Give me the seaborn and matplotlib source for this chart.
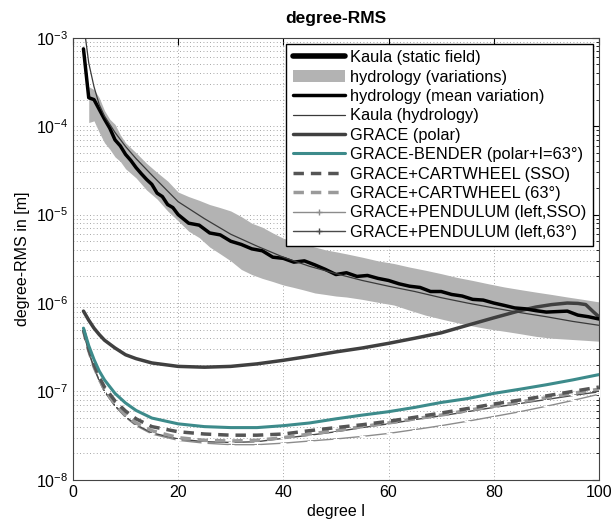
import numpy as np
import pandas as pd
import matplotlib
matplotlib.use("Agg")
import matplotlib.pyplot as plt
import seaborn as sns
from matplotlib.patches import Patch
from matplotlib.lines import Line2D

# degrees used for the smooth curves
deg = [2, 3, 4, 5, 6, 8, 10, 12, 15, 20, 25, 30, 35, 40, 45, 50, 55, 60, 65, 70, 75, 80, 85, 90, 95, 100]

kaula_static_deg = [2, 10, 50, 100]
kaula_static = [36.0, 2.9, 0.26, 0.09]  # far above the plotted range

kaula_hydro = [1.5e-3, 5.2e-4, 2.8e-4, 1.75e-4, 1.3e-4, 8.5e-5, 5.9e-5, 4.3e-5, 2.8e-5, 1.4e-5, 9.0e-6, 6.0e-6,
               4.4e-6, 3.3e-6, 2.6e-6, 2.15e-6, 1.8e-6, 1.55e-6, 1.35e-6, 1.15e-6, 1.0e-6, 8.8e-7, 7.8e-7,
               7.0e-7, 6.2e-7, 5.6e-7]

bender = [5.2e-7, 3.3e-7, 2.3e-7, 1.7e-7, 1.35e-7, 9.5e-8, 7.4e-8, 6.1e-8, 5.0e-8, 4.3e-8, 4.0e-8, 3.9e-8,
          3.9e-8, 4.1e-8, 4.4e-8, 4.9e-8, 5.4e-8, 5.9e-8, 6.6e-8, 7.5e-8, 8.3e-8, 9.5e-8, 1.06e-7,
          1.19e-7, 1.35e-7, 1.55e-7]
cw_sso = [5.0e-7, 3.0e-7, 2.0e-7, 1.45e-7, 1.12e-7, 7.8e-8, 6.0e-8, 4.9e-8, 4.0e-8, 3.5e-8, 3.3e-8, 3.2e-8,
          3.2e-8, 3.3e-8, 3.6e-8, 3.9e-8, 4.2e-8, 4.6e-8, 5.1e-8, 5.7e-8, 6.4e-8, 7.2e-8, 8.0e-8,
          8.9e-8, 1.0e-7, 1.12e-7]
cw_63 = [4.9e-7, 2.9e-7, 1.9e-7, 1.38e-7, 1.05e-7, 7.2e-8, 5.4e-8, 4.4e-8, 3.6e-8, 3.0e-8, 2.8e-8, 2.75e-8,
         2.8e-8, 3.0e-8, 3.3e-8, 3.6e-8, 4.0e-8, 4.4e-8, 4.9e-8, 5.4e-8, 6.1e-8, 6.8e-8, 7.6e-8,
         8.5e-8, 9.5e-8, 1.06e-7]
pend_63 = [4.8e-7, 2.8e-7, 1.85e-7, 1.33e-7, 1.0e-7, 6.9e-8, 5.2e-8, 4.2e-8, 3.4e-8, 2.9e-8, 2.7e-8, 2.65e-8,
           2.7e-8, 2.95e-8, 3.2e-8, 3.5e-8, 3.9e-8, 4.3e-8, 4.8e-8, 5.3e-8, 5.9e-8, 6.6e-8, 7.3e-8,
           8.1e-8, 9.0e-8, 9.9e-8]
pend_sso = [4.8e-7, 2.8e-7, 1.85e-7, 1.32e-7, 1.0e-7, 6.8e-8, 5.1e-8, 4.1e-8, 3.3e-8, 2.8e-8, 2.6e-8, 2.5e-8,
            2.5e-8, 2.6e-8, 2.75e-8, 2.9e-8, 3.1e-8, 3.35e-8, 3.7e-8, 4.1e-8, 4.6e-8, 5.2e-8, 5.9e-8,
            6.8e-8, 7.9e-8, 9.3e-8]

polar_deg = [2, 3, 4, 5, 6, 8, 10, 12, 15, 20, 25, 30, 35, 40, 45, 50, 55, 60, 65, 70, 75, 80, 85, 88, 91,
             94, 96, 97.5, 99, 100]
polar = [8.1e-7, 6.4e-7, 5.2e-7, 4.4e-7, 3.8e-7, 3.1e-7, 2.6e-7, 2.35e-7, 2.1e-7, 1.92e-7, 1.88e-7, 1.92e-7,
         2.05e-7, 2.25e-7, 2.5e-7, 2.8e-7, 3.1e-7, 3.5e-7, 4.0e-7, 4.6e-7, 5.6e-7, 6.8e-7, 8.2e-7, 9.0e-7,
         9.6e-7, 1.0e-6, 9.9e-7, 9.6e-7, 7.9e-7, 7.0e-7]

# hydrology mean variation (jagged)
mean_deg = [2, 3, 4, 5, 6, 7, 8, 9, 10, 11, 12, 13, 14, 15, 16, 17, 18, 19, 20, 22, 24, 26, 28, 30, 32, 34,
            36, 38, 40, 42, 44, 46, 48, 50, 52, 54, 56, 58, 60, 62, 64, 66, 68, 70, 72, 74, 76, 78, 80, 82,
            84, 86, 88, 90, 92, 94, 96, 98, 100]
mean_var = [7.5e-4, 2.1e-4, 2.0e-4, 1.55e-4, 1.2e-4, 9.5e-5, 7.0e-5, 6.0e-5, 4.8e-5, 4.1e-5, 3.4e-5, 2.9e-5,
            2.5e-5, 2.2e-5, 1.75e-5, 1.6e-5, 1.3e-5, 1.2e-5, 1.0e-5, 8.0e-6, 7.6e-6, 6.2e-6, 5.9e-6, 5.0e-6,
            4.6e-6, 4.1e-6, 3.9e-6, 3.3e-6, 3.2e-6, 2.9e-6, 3.0e-6, 2.7e-6, 2.4e-6, 2.1e-6, 2.2e-6, 2.0e-6,
            2.05e-6, 1.9e-6, 1.8e-6, 1.65e-6, 1.55e-6, 1.5e-6, 1.35e-6, 1.35e-6, 1.25e-6, 1.2e-6, 1.1e-6,
            1.08e-6, 1.0e-6, 9.4e-7, 8.8e-7, 8.6e-7, 8.2e-7, 7.9e-7, 8.0e-7, 8.1e-7, 7.3e-7, 7.0e-7, 6.6e-7]

# hydrology variations band
band_deg = [3, 4, 5, 6, 7, 8, 9, 10, 12, 14, 16, 18, 20, 22, 24, 26, 28, 30, 32, 34, 36, 38, 40, 42, 44, 46,
            48, 50, 52, 55, 58, 61, 64, 67, 70, 73, 76, 79, 82, 85, 88, 91, 94, 97, 100]
band_hi = [2.8e-4, 2.6e-4, 2.1e-4, 1.5e-4, 1.2e-4, 1.05e-4, 8.0e-5, 6.5e-5, 5.0e-5, 3.8e-5, 3.0e-5, 2.4e-5,
           1.8e-5, 1.6e-5, 1.45e-5, 1.3e-5, 1.2e-5, 1.1e-5, 9.5e-6, 8.0e-6, 7.2e-6, 6.2e-6, 5.4e-6, 5.0e-6,
           4.6e-6, 4.3e-6, 4.0e-6, 3.8e-6, 3.6e-6, 3.3e-6, 3.0e-6, 2.8e-6, 2.55e-6, 2.35e-6, 2.15e-6,
           1.95e-6, 1.8e-6, 1.65e-6, 1.52e-6, 1.42e-6, 1.33e-6, 1.25e-6, 1.17e-6, 1.1e-6, 1.03e-6]
band_lo = [1.1e-4, 1.15e-4, 8.5e-5, 6.5e-5, 5.5e-5, 4.5e-5, 4.0e-5, 3.3e-5, 2.6e-5, 1.9e-5, 1.5e-5, 1.1e-5,
           8.5e-6, 6.5e-6, 5.5e-6, 4.3e-6, 3.6e-6, 3.0e-6, 2.4e-6, 2.1e-6, 1.9e-6, 1.75e-6, 1.6e-6, 1.5e-6,
           1.4e-6, 1.3e-6, 1.25e-6, 1.2e-6, 1.17e-6, 1.1e-6, 1.02e-6, 9.5e-7, 8.3e-7, 7.3e-7, 6.6e-7,
           6.0e-7, 5.5e-7, 5.1e-7, 4.8e-7, 4.5e-7, 4.2e-7, 4.0e-7, 3.9e-7, 3.8e-7, 3.7e-7]

labels = ["Kaula (static field)", "hydrology (variations)", "hydrology (mean variation)", "Kaula (hydrology)",
          "GRACE (polar)", "GRACE-BENDER (polar+I=63\u00b0)", "GRACE+CARTWHEEL (SSO)", "GRACE+CARTWHEEL (63\u00b0)",
          "GRACE+PENDULUM (left,SSO)", "GRACE+PENDULUM (left,63\u00b0)"]

sns.set_style("white")
plt.rcParams['font.family'] = ['Liberation Sans', 'DejaVu Sans']
plt.rcParams['text.color'] = 'black'
plt.rcParams['axes.labelcolor'] = 'black'
plt.rcParams['xtick.color'] = 'black'
plt.rcParams['ytick.color'] = 'black'

fig = plt.figure(figsize=(6.13, 5.25), dpi=100)
ax = fig.add_axes([0.119, 0.086, 0.858, 0.842])

ax.fill_between(band_deg, band_lo, band_hi, color="#b3b3b3", linewidth=0, zorder=1)

sns.lineplot(x=kaula_static_deg, y=kaula_static, ax=ax, color="black", linewidth=4, zorder=3)
sns.lineplot(x=mean_deg, y=mean_var, ax=ax, color="black", linewidth=2.5, zorder=4)
sns.lineplot(x=deg, y=kaula_hydro, ax=ax, color="#3a3a3a", linewidth=0.9, zorder=4)
sns.lineplot(x=polar_deg, y=polar, ax=ax, color="#404040", linewidth=2.5, zorder=3)
sns.lineplot(x=deg, y=pend_sso, ax=ax, color="#8c8c8c", linewidth=1, marker="+", markersize=4, zorder=3)
sns.lineplot(x=deg, y=pend_63, ax=ax, color="#4a4a4a", linewidth=1, marker="+", markersize=4, zorder=3)
sns.lineplot(x=deg, y=cw_63, ax=ax, color="#9a9a9a", linewidth=2.5, linestyle=(0, (3, 2)), zorder=3)
sns.lineplot(x=deg, y=cw_sso, ax=ax, color="#555555", linewidth=2.5, linestyle=(0, (3, 2)), zorder=3)
sns.lineplot(x=deg, y=bender, ax=ax, color="#3d8b8b", linewidth=2.2, zorder=3)

ax.set_yscale("log")
ax.set_xlim(0, 100)
ax.set_ylim(1e-8, 1e-3)
ax.set_xticks([0, 20, 40, 60, 80, 100])

ax.grid(True, which="major", axis="x", linestyle=(0, (1, 3)), color="#888888", linewidth=0.6)
ax.grid(True, which="both", axis="y", linestyle=(0, (1, 3)), color="#888888", linewidth=0.6)
ax.tick_params(which="both", direction="in", top=True, right=True, labelsize=11.5)
ax.tick_params(which="major", length=5)
ax.tick_params(which="minor", length=2.5)
for s in ax.spines.values():
    s.set_color("#444444")
    s.set_linewidth(0.8)

ax.set_title("degree-RMS", fontsize=12.5, fontweight="bold", pad=11)
ax.set_xlabel("degree l", fontsize=11.5, labelpad=3)
ax.set_ylabel("degree-RMS in [m]", fontsize=11.5, labelpad=4)

handles = [
    Line2D([], [], color="black", linewidth=4),
    Patch(facecolor="#b3b3b3", edgecolor="none"),
    Line2D([], [], color="black", linewidth=2.5),
    Line2D([], [], color="#3a3a3a", linewidth=0.9),
    Line2D([], [], color="#404040", linewidth=2.5),
    Line2D([], [], color="#3d8b8b", linewidth=2.2),
    Line2D([], [], color="#555555", linewidth=2.5, linestyle=(0, (3, 2))),
    Line2D([], [], color="#9a9a9a", linewidth=2.5, linestyle=(0, (3, 2))),
    Line2D([], [], color="#8c8c8c", linewidth=1, marker="+", markersize=4),
    Line2D([], [], color="#4a4a4a", linewidth=1, marker="+", markersize=4),
]
leg = ax.legend(handles, labels, loc="upper right", fontsize=11.8, handlelength=3.2, handletextpad=0.3,
                labelspacing=0.27, borderpad=0.4, borderaxespad=0.35, frameon=True, fancybox=False,
                framealpha=1)
leg.get_frame().set_edgecolor("black")
leg.get_frame().set_linewidth(1.0)
leg.set_zorder(10)

fig.savefig("out.png", dpi=100)
